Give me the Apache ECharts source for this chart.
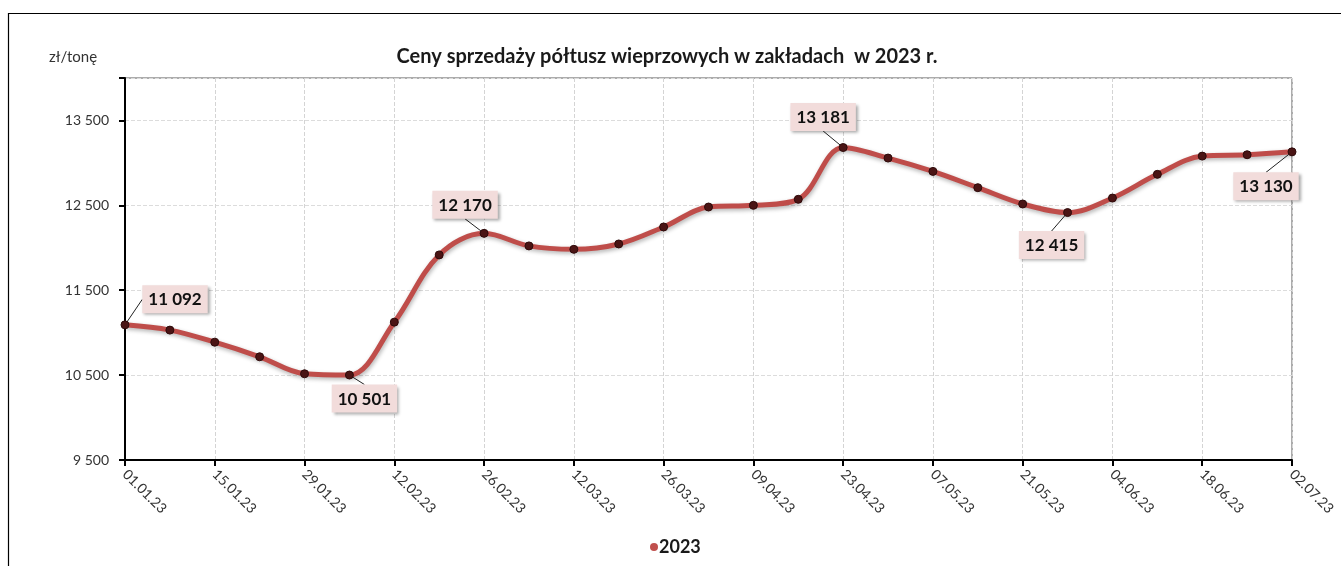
<!DOCTYPE html>
<html><head><meta charset="utf-8">
<script src="https://cdn.jsdelivr.net/npm/echarts@6/dist/echarts.min.js"></script>
<style>html,body{margin:0;padding:0;background:#fff}#c{width:1341px;height:566px}</style>
</head><body><div id="c"></div>
<script>
const categories = ['01.01.23','08.01.23','15.01.23','22.01.23','29.01.23','05.02.23','12.02.23','19.02.23','26.02.23','05.03.23','12.03.23','19.03.23','26.03.23','02.04.23','09.04.23','16.04.23','23.04.23','30.04.23','07.05.23','14.05.23','21.05.23','28.05.23','04.06.23','11.06.23','18.06.23','25.06.23','02.07.23'];
const prices2023 = [11092,11030,10888,10716,10516,10501,11124,11916,12170,12022,11982,12045,12245,12480,12500,12571,13181,13057,12900,12708,12516,12415,12586,12865,13080,13096,13130];
const labelledIdx = [0,5,8,16,21,26];
const labelShift = {0:[50,-2],5:[15,47],8:[-19,-5],16:[-20,-7],21:[-16,56],26:[-26,58]};
const yMin = 9500, yMax = 14000, yStep = 1000;
const seriesName = '2023';
const titleText = 'Ceny sprzedaży półtusz wieprzowych w zakładach  w 2023 r.';
const unitText = 'zł/tonę';

const fmt = v => String(v).replace(/\B(?=(\d{3})+(?!\d))/g, ' ');
const FF = "Lato, 'Open Sans', sans-serif";

const data = prices2023.map((v,i) => ({value: v, label: {show: labelledIdx.includes(i)}}));

const chart = echarts.init(document.getElementById('c'), null, {renderer:'canvas'});
chart.setOption({
  animation: false,
  backgroundColor: '#fff',
  title: {text: titleText, left: 662, textAlign: 'center', top: 42,
    textStyle: {fontFamily: FF, fontSize: 20, fontWeight: 'bold', color: '#1a1a1a'}},
  graphic: [
    {type:'polyline', shape:{points:[[8.5,600],[8.5,13.5],[1400,13.5]]}, style:{fill:'none', stroke:'#000', lineWidth:1.2}, silent:true},
    {type:'text', left: 49, top: 50, style:{text: unitText, font: "15px " + FF, fill:'#333'}}
  ],
  legend: {data:[{name: seriesName, icon:'circle', itemStyle:{color:'#c0504d', borderWidth:0}}],
    left: 645, top: 533, itemWidth: 8, itemHeight: 8, itemGap: 4,
    textStyle:{fontFamily: FF, fontSize: 18, fontWeight:'bold', color:'#1a1a1a', padding:[0,0,0,-4]}},
  grid: {left: 125, right: 49, top: 78, bottom: 106, show: true, borderColor:'#595959', borderWidth: 1},
  xAxis: {type:'category', data: categories, boundaryGap: false,
    axisLine:{lineStyle:{color:'#000', width:2}},
    axisTick:{show:true, interval:1, length:6, lineStyle:{color:'#000', width:2}},
    axisLabel:{interval:1, rotate:-45, margin:12, fontFamily: FF, fontSize: 14, color:'#333'},
    splitLine:{show:true, interval:1, lineStyle:{color:'#d4d4d4', type:'dashed', width:1}}},
  yAxis: {type:'value', min: yMin, max: yMax, interval: yStep,
    axisLine:{show:true, lineStyle:{color:'#000', width:2}},
    axisTick:{show:true, length:6, lineStyle:{color:'#000', width:2}},
    axisLabel:{margin:16, fontFamily: FF, fontSize: 14, color:'#333',
      formatter: v => v >= yMax ? '' : fmt(v)},
    splitLine:{show:true, lineStyle:{color:'#dcdcdc', type:'dashed', width:1}}},
  series: [{
    name: seriesName, type:'line', smooth: 0.35, data: data,
    symbol:'circle', symbolSize: 8,
    itemStyle:{color:'#4a1414', borderColor:'#2e0a0a', borderWidth:1},
    lineStyle:{color:'#bf4d4a', width:5, shadowColor:'rgba(0,0,0,0.3)', shadowBlur:4, shadowOffsetX:1, shadowOffsetY:2},
    label:{position:'top', distance:5, formatter: p => fmt(p.value),
      fontFamily: FF, fontSize: 17, fontWeight:'bold', color:'#111',
      backgroundColor:'#f2dcdb', padding:[6,6,5,6],
      shadowColor:'rgba(0,0,0,0.35)', shadowBlur:3, shadowOffsetX:2, shadowOffsetY:2},
    labelLine:{show:true, lineStyle:{color:'#222', width:1}},
    labelLayout: p => {
      const s = labelShift[p.dataIndex];
      return s ? {dx: s[0], dy: s[1]} : {};
    },
    emphasis:{disabled:true}
  }]
});
</script></body></html>
